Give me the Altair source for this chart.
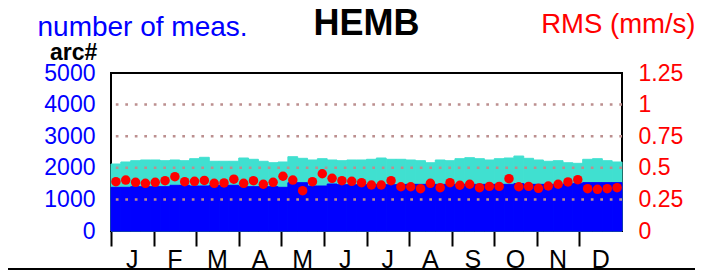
import altair as alt
import pandas as pd

# ---- data ----
total_meas = [2120, 2184, 2225, 2247, 2247, 2225, 2247, 2225, 2288, 2332,
              2206, 2206, 2206, 2310, 2269, 2206, 2161, 2184, 2351, 2300,
              2247, 2288, 2247, 2225, 2247, 2247, 2269, 2310, 2269, 2269,
              2247, 2225, 2160, 2247, 2225, 2288, 2320, 2288, 2247, 2288,
              2310, 2372, 2300, 2247, 2206, 2225, 2160, 2142, 2269, 2288,
              2225, 2184]
arc_meas = [1383, 1383, 1402, 1402, 1402, 1402, 1446, 1446, 1424, 1424,
            1446, 1446, 1446, 1402, 1402, 1402, 1402, 1383, 1528, 1528,
            1424, 1424, 1487, 1465, 1465, 1465, 1465, 1465, 1465, 1465,
            1476, 1476, 1476, 1476, 1476, 1476, 1476, 1476, 1476, 1476,
            1476, 1500, 1476, 1476, 1476, 1476, 1487, 1510, 1530, 1530,
            1530, 1530]
rms = [0.390, 0.403, 0.385, 0.377, 0.385, 0.398, 0.430, 0.390, 0.393, 0.400,
       0.377, 0.380, 0.410, 0.377, 0.398, 0.370, 0.385, 0.433, 0.403, 0.319,
       0.390, 0.453, 0.417, 0.398, 0.393, 0.382, 0.364, 0.364, 0.398, 0.350,
       0.350, 0.335, 0.377, 0.343, 0.382, 0.362, 0.370, 0.343, 0.353, 0.353,
       0.414, 0.350, 0.353, 0.338, 0.356, 0.370, 0.388, 0.406, 0.335, 0.330,
       0.335, 0.343]
months = ["J", "F", "M", "A", "M", "J", "J", "A", "S", "O", "N", "D"]
count_ticks = [0, 1000, 2000, 3000, 4000, 5000]
rms_ticks = [0, 0.25, 0.5, 0.75, 1.0, 1.25]
rms_grid = [0.25, 0.5, 0.75, 1.0]

n_weeks = len(rms)
df = pd.DataFrame({
    "week": list(range(n_weeks)),
    "week_end": [w + 1 for w in range(n_weeks)],
    "week_mid": [w + 0.5 for w in range(n_weeks)],
    "total": total_meas,
    "arc": arc_meas,
    "rms": rms,
})
wpm = n_weeks / 12.0
month_starts = [k * wpm for k in range(12)]
mdf = pd.DataFrame({"m": months, "pos": [(k + 0.5) * wpm for k in range(12)]})

FONT = "Liberation Sans"
xscale = alt.Scale(domain=[0, n_weeks], nice=False, zero=False)
cscale = alt.Scale(domain=[0, 5000], nice=False)
rscale = alt.Scale(domain=[0, 1.25], nice=False)

base = alt.Chart(df)

x_axis = alt.Axis(values=month_starts, ticks=True, tickSize=15, tickWidth=2,
                  tickColor="black", labels=False, domain=False, grid=False,
                  title=None)

left_axis = alt.Axis(values=count_ticks, format="d", labelColor="#0000FF",
                     labelFontSize=23, labelPadding=16, ticks=False, tickSize=0,
                     domain=False, grid=False, labelOverlap=False,
                     labelFlush=False, labelBaseline="middle",
                     title="number of meas.", titleAngle=0, titleAlign="left",
                     titleBaseline="alphabetic", titleX=-74, titleY=-37.5,
                     titleColor="#0000FF", titleFontSize=28,
                     titleFontWeight="normal")

right_axis = alt.Axis(values=rms_ticks, labelExpr="toString(datum.value)",
                      orient="right", labelColor="#FF0000", labelFontSize=23,
                      labelPadding=16, ticks=False, tickSize=0, domain=False,
                      grid=False, labelOverlap=False, labelFlush=False,
                      labelBaseline="middle",
                      title="RMS (mm/s)", titleAngle=0,
                      titleAlign="right", titleBaseline="alphabetic",
                      titleX=73, titleY=-40.5, titleColor="#FF0000",
                      titleFontSize=27.5, titleFontWeight="normal")

bars_total = base.mark_bar(color="#40E0D0", stroke="#40E0D0", strokeWidth=1).encode(
    x=alt.X("week:Q", scale=xscale, axis=x_axis),
    x2="week_end:Q",
    y=alt.Y("total:Q", scale=cscale, axis=left_axis),
    y2=alt.datum(0),
)
bars_arc = base.mark_bar(color="#0000FF", stroke="#0000FF", strokeWidth=1).encode(
    x=alt.X("week:Q", scale=xscale, axis=x_axis),
    x2="week_end:Q",
    y=alt.Y("arc:Q", scale=cscale, axis=left_axis),
    y2=alt.datum(0),
)
left = alt.layer(bars_total, bars_arc)

grid = alt.Chart(pd.DataFrame({"g": rms_grid})).mark_rule(
    color="#BC8F8F", strokeDash=[2.7, 6.8], strokeWidth=2.5
).encode(y=alt.Y("g:Q", scale=rscale, axis=right_axis))

points = base.mark_circle(size=90, color="#FF0000", opacity=1).encode(
    x=alt.X("week_mid:Q", scale=xscale, axis=x_axis),
    y=alt.Y("rms:Q", scale=rscale, axis=right_axis),
)
right = alt.layer(grid, points)

month_text = alt.Chart(mdf).mark_text(
    font=FONT, fontSize=25, color="black", baseline="alphabetic", align="center"
).encode(
    x=alt.X("pos:Q", scale=xscale, axis=x_axis),
    y=alt.value(195),
    text="m:N",
)

title_text = alt.Chart(pd.DataFrame({"t": ["HEMB"]})).mark_text(
    font=FONT, fontSize=36, fontWeight="bold", color="black",
    baseline="alphabetic", align="center"
).encode(x=alt.value(255.5), y=alt.value(-38), text="t:N")

arc_text = alt.Chart(pd.DataFrame({"t": ["arc#"]})).mark_text(
    font=FONT, fontSize=23, fontWeight="bold", color="black",
    baseline="alphabetic", align="left"
).encode(x=alt.value(-61), y=alt.value(-13.5), text="t:N")

bottom_line = alt.Chart(pd.DataFrame({"t": [0]})).mark_rule(
    color="black", strokeWidth=2
).encode(x=alt.value(-103), x2=alt.value(584), y=alt.value(196))

chart = alt.layer(
    left, right, month_text, title_text, arc_text, bottom_line
).resolve_scale(y="independent").properties(
    width=511, height=158,
    autosize=alt.AutoSizeParams(type="none"),
    padding={"left": 103, "top": 65, "right": 73, "bottom": 40},
    background="white",
).configure(font=FONT).configure_view(
    stroke="black", strokeWidth=2
).configure_axis(labelFont=FONT, titleFont=FONT, labelOverlap=False)

chart.save("out.html", embed_options={"renderer": "svg", "actions": False})
